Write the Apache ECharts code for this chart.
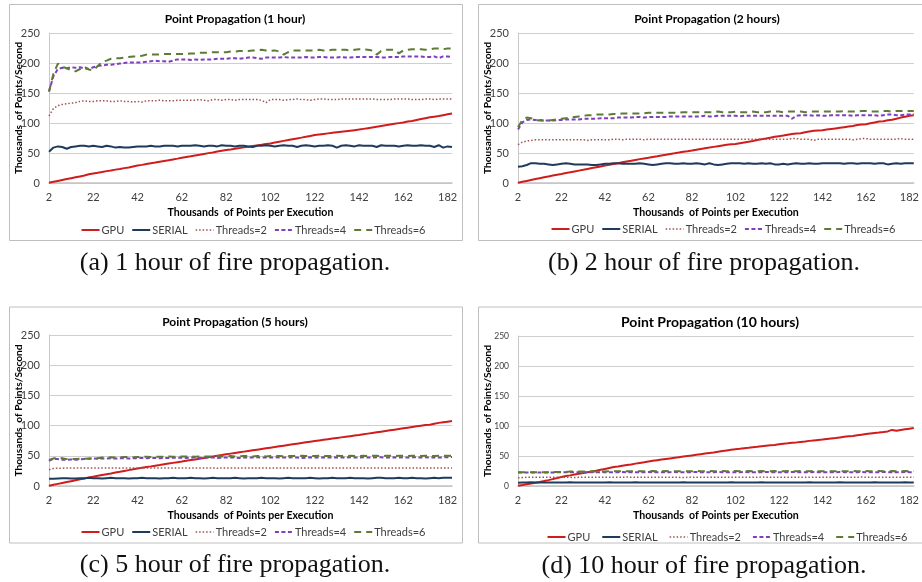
<!DOCTYPE html>
<html><head><meta charset="utf-8">
<script src="https://cdn.jsdelivr.net/npm/echarts@6/dist/echarts.min.js"></script>
<style>html,body{margin:0;padding:0;background:#fff}#c{width:922px;height:582px}</style>
</head><body><div id="c"></div>
<script>
// ---------- DATA ----------
const categories = [2,4,6,8,10,12,14,16,18,20,22,24,26,28,30,32,34,36,38,40,42,44,46,48,50,52,54,56,58,60,62,64,66,68,70,72,74,76,78,80,82,84,86,88,90,92,94,96,98,100,102,104,106,108,110,112,114,116,118,120,122,124,126,128,130,132,134,136,138,140,142,144,146,148,150,152,154,156,158,160,162,164,166,168,170,172,174,176,178,180,182,184];
const seriesNames = ['GPU','SERIAL','Threads=2','Threads=4','Threads=6'];
const yTicks = [0,50,100,150,200,250];

// (a) 1 hour
const gpuA = [0.5,2,3.5,5,6.5,8,9.5,11,12.5,14.5,
16,17.2,18.5,19.8,21,22.3,23.5,24.8,26,27.5,
29,30.2,31.5,32.8,34,35.5,36.8,38,39.3,40.6,
42,43.3,44.6,46,47.2,48.5,49.8,51,52.4,53.7,
55,56,57.2,58.3,59.5,60.5,61.6,62.7,63.8,65,
66,67.4,68.8,70.2,71.5,72.9,74.3,75.6,77,78.5,
80,80.9,81.8,82.7,83.6,84.5,85.4,86.3,87.2,88.1,
89,90.2,91.4,92.6,93.8,95,96.2,97.4,98.6,99.8,
101,102.5,103.5,105,106.5,108,109.5,110.5,111.5,113,
114.5,116];
const serialA = [52,59,61,60,57,60,61,62,62,61,
62,61,60,62,61,59,60,59,59,60,
61,61,61,62,61,61,62,62,62,61,
62,62,62,63,62,61,62,62,61,63,
62,62,61,62,62,61,60,62,62,63,
62,61,62,63,62,62,60,62,63,62,
61,62,62,63,62,59,62,63,62,61,
63,62,62,62,60,63,62,62,62,61,
62,63,62,62,63,62,62,60,63,59,
61,60];
const t2A = [112,124,129,131,132,133,134,136,137,136,
136,137,137,137,136,136,137,136,136,135,
136,135,137,137,137,138,137,137,137,138,
138,138,138,138,139,138,137,139,139,138,
139,139,138,139,139,139,139,139,138,134,
139,139,139,138,139,139,140,139,139,138,
139,140,140,139,139,139,140,140,140,140,
140,140,140,140,139,139,139,139,140,140,
140,140,139,139,139,140,140,139,140,140,
140,140];
const t4A = [153,178,190,192,191,193,192,193,191,190,
193,195,196,197,197,198,199,200,201,201,
201,201,202,203,204,203,203,202,204,206,
206,206,205,206,205,206,206,206,207,207,
207,208,208,207,208,209,209,208,207,209,
209,209,209,210,209,209,209,209,210,209,
209,210,210,209,209,209,210,209,209,210,
210,210,210,210,210,209,209,210,210,210,
211,211,211,211,211,210,210,211,208,211,
211,210];
const t6A = [152,182,199,194,191,188,186,190,194,189,
188,195,202,204,207,208,208,209,210,211,
211,212,214,214,214,214,215,215,215,215,
215,215,216,216,217,217,217,218,218,218,
218,219,219,220,220,220,221,221,222,221,
220,221,219,214,218,221,221,221,221,221,
221,222,221,221,222,222,222,222,221,222,
223,223,222,221,214,220,222,222,222,216,
221,222,223,223,223,222,223,224,224,223,
224,224];

// (b) 2 hours
const gpuB = [0.5,2,3.5,5,6.5,8,9.5,11,12.5,13.8,
15,16.5,17.8,19.2,20.6,22,23.5,25,26.3,27.6,
29,30.2,31.5,33,34.5,36,37,38.4,39.8,41,
42,43.3,44.5,45.8,47,48.3,49.5,50.8,52.2,53,
54,55.5,56.8,58,59,60.2,61.4,62.6,63.8,64.5,
65,66.2,67.4,68.6,70,71.5,72.8,74,75.5,77,
78,79,80.4,81.6,82.5,83,84.5,86,87,87.5,
88,89,90,91,92,93,94,95,96.5,97.5,
98,99.5,101,102.5,103,104.5,105.5,107,109,110.5,
112,113];
const serialB = [27,28,30,33,33,32,32,31,30,31,
32,33,32,31,31,31,31,30,30,31,
32,32,33,33,32,32,32,32,33,32,
31,30,31,32,33,33,32,32,33,32,
32,33,32,31,33,31,30,31,32,33,
33,33,32,33,32,32,33,32,33,31,
31,32,31,32,33,32,32,33,32,32,
33,33,33,33,33,32,33,33,32,33,
33,33,32,33,33,31,32,33,32,33,
33,33];
const t2B = [64,68,70,71,72,72,72,72,72,72,
72,72,72,72,72,72,71,72,72,72,
72,72,73,73,72,73,73,73,73,72,
73,73,73,73,73,73,73,73,73,73,
73,73,73,73,73,73,73,73,73,73,
73,73,73,73,73,73,73,73,73,73,
73,73,73,74,74,73,73,73,71,73,
73,73,73,73,73,73,73,72,73,74,
74,73,73,73,73,73,73,73,74,73,
73,73];
const t4B = [89,101,105,106,105,105,104,104,104,105,
105,106,106,106,106,107,107,107,107,108,
108,108,108,109,109,109,109,110,110,109,
110,110,110,110,110,111,111,111,111,111,
111,111,111,112,111,111,112,112,112,112,
112,111,112,112,112,112,112,112,112,112,
112,112,112,107,112,113,113,113,112,113,
112,112,113,113,113,113,113,112,113,113,
113,113,113,112,113,114,114,113,113,114,
114,115];
const t6B = [93,105,109,108,105,104,104,104,105,106,
107,108,109,110,111,112,113,113,114,114,
114,114,115,115,116,116,116,116,116,116,
117,117,117,117,117,117,117,117,118,118,
118,118,118,118,118,118,119,118,118,118,
119,118,118,118,119,118,118,118,119,119,
119,118,119,119,119,119,118,119,119,119,
119,119,119,119,119,120,119,119,119,120,
120,119,119,119,120,120,119,120,120,120,
120,120];

// (c) 5 hours
const gpuC = [0.5,2,3.5,5,6.5,8,9.5,11,12.5,14,
15.5,16.8,18.2,19.5,20.8,22.2,23.5,25,26.3,27.6,
29,30.2,31.4,32.5,33.7,34.8,36,37.2,38.3,39.4,
40.5,41.7,42.9,44,45.2,46.4,47.6,48.8,50,51.2,
52.5,53.6,54.7,55.8,56.9,58,59.1,60.2,61.3,62.4,
63.5,64.6,65.7,66.8,67.9,69,70.1,71.2,72.3,73.4,
74.5,75.5,76.5,77.5,78.5,79.5,80.5,81.5,82.5,83.5,
84.5,85.6,86.7,87.8,88.9,90,91.1,92.2,93.3,94.4,
95.5,96.6,97.7,98.8,99.9,101,101.5,103,104.5,105.5,
106.5,107.5];
const serialC = [12,12,12.5,13,13,12.5,12.5,13,13,13.5,
13,13,12.5,13,13.5,13,13,13,12.5,13,
13,13.5,13,13,13,12.5,13,13,13.5,13,
13,13,13.5,13,13,12.5,13,13.5,13,13,
13,13,13.5,13,12.5,13,13,13,13.5,13,
13,13,12.5,13,13.5,13,13,13,13,13.5,
13,12.5,13,13,13.5,13,13,13,13.5,13,
13,13,12.5,13,13.5,13.5,13,13,13,13.5,
13,13,13.5,13,13,12.5,13,13.5,13,13.5,
13.5,13.5];
const t2C = [27,29,29.5,29.5,30,30,29.5,30,30,30,
30,29.5,30,30,30,30,29.5,30,30,30,
29.5,30,30,30,30,29.5,30,30,30,30,
30,30,29.5,30,30,30,30,30,29.5,30,
30,30,30,29.5,30,30,30,30,30,30,
29.5,30,30,30,30,30,29.5,30,30,30,
30,30,30,29.5,30,30,30,30,30,30,
29.5,30,30,30,30,30,30,29.5,30,30,
30,30,30,30,29.5,30,30,30,30,30,
30,30];
const t4C = [41.5,45,44.5,43.5,43.5,44,43.5,44,44.5,45,
45.5,45,45.5,45.5,46,45.5,46,46,45.5,46,
46,46.5,46,46.5,46.5,46,46.5,46.5,47,46.5,
47,46.5,47,47,46.5,47,47,47,46.5,47,
47,47,47,46.5,47,47,47,47.5,47,47,
47,47.5,47,47,47,47.5,47,46.5,47,47.5,
47,47,47.5,47,47,47.5,47,47,47.5,47,
47,47.5,47,47,47.5,47.5,47,47,47.5,47,
47.5,47,47.5,47.5,47,47.5,47,47.5,47,47.5,
47.5,48];
const t6C = [43,45.5,47,46,44.5,44.5,44.5,45,45,45.5,
46,46,47,47,47.5,47,47.5,48,48,47.5,
48,48,48.5,48,48.5,48.5,48.5,49,48.5,48.5,
49,49,49,48.5,49,49,49,49,49.5,49,
49,49.5,49,49,49.5,49.5,49,49.5,49.5,49,
49.5,49.5,49.5,49,49.5,49.5,49.5,50,49.5,49.5,
49.5,50,49.5,49.5,49.5,50,49.5,49.5,50,49.5,
49.5,50,49.5,50,50,49.5,50,50,49.5,50,
50,49.5,50,50,49.5,50,50,49.5,50,50,
50,50];

// (d) 10 hours
const gpuD = [0.5,1.5,3,4.2,5.5,6.8,8.2,9.8,11.5,13.2,
15,16.5,17.7,19,20.3,21.5,22.8,24,25.5,27,
28.5,30,31.5,32.5,33.8,35,36,37.3,38.5,39.7,
41,42,43,44,45,46,47,48,49,50,
51,52,53,54,55,56,57.2,58.3,59.3,60.3,
61.3,62,63,63.7,64.5,65.3,66.2,67,67.8,68.5,
69.5,70.5,71.2,72,72.7,73.5,74.3,75.2,76,76.8,
77.6,78.5,79.3,80,81,82,82.8,83.5,84.5,85.5,
86.5,87.5,88.5,89.2,90,91,93.5,92,93.5,94.5,
95.5,96.5];
const serialD = [5.5,6,6,6.2,6,6,6,6,5.8,6,
6,6,6.2,6,6,6,5.8,6,6,6,
6,6.2,6,6,6,6,6,6.2,6,6,
6,6,5.8,6,6,6,6,6,6.2,6,
6,6,6,6,5.8,6,6,6,6,6.2,
6,6,6,6,6,6,6.2,6,6,6,
6,5.8,6,6,6,6,6,6.2,6,6,
6,6,6,6,6.2,6,6,6,5.8,6,
6,6,6.2,6,6,6,6,6,6,6.2,
6,6];
const t2D = [13.5,14,14.5,14.5,14.5,14.5,14.5,14.5,14.5,14.5,
14.5,14.5,14.5,14,14.5,14.5,14.5,14.5,14.5,14.5,
14.5,14.5,14.5,14.5,14.5,15,14.5,14.5,14.5,14.5,
14.5,14.5,14.5,14.5,14.5,14.5,14.5,14.5,14,14.5,
14.5,14.5,14.5,14.5,14.5,14.5,14.5,14.5,14.5,14.5,
14.5,14.5,14.5,14.5,14.5,14.5,15,14.5,14.5,14.5,
14.5,14.5,14.5,14.5,14.5,14.5,14.5,14.5,14.5,14.5,
14.5,14.5,14.5,14.5,14.5,14.5,14.5,14.5,14.5,15,
14.5,14.5,14.5,14.5,14.5,14.5,14.5,14.5,14.5,14.5,
14.5,14.5];
const t4D = [22.5,22.5,22.5,22.5,22.5,22.5,22.5,22.5,22.5,23,
23,23,23,23,23,23,23,23,23,23,
23,23,23,23,23.5,23,23,23,23,23,
23.5,23,23,23,23,23,23.5,23,23,23,
23,23.5,23,23,23,23,23.5,23,23,23,
23,23,23.5,23,23,23,23,23.5,23,23,
23,23,23,23.5,23,23,23,23,23.5,23,
23,23,23,23,23.5,23,23,23,23,23.5,
23,23,23,23,23.5,23,23,23,23,23.5,
23,23];
const t6D = [23,23,23,23,23,23,23,23,23,23.5,
23.5,23.5,24,24,24,24,24,24.5,24,24,
24,24.5,24.5,24.5,24.5,24.5,24.5,25,24.5,24.5,
24.5,25,24.5,24.5,25,24.5,24.5,24.5,25,24.5,
24.5,25,24.5,24.5,25,24.5,24.5,25,24.5,24.5,
25,24.5,24.5,25,24.5,24.5,25,24.5,24.5,25,
24.5,24.5,25,24.5,24.5,25,24.5,24.5,25,24.5,
24.5,25,24.5,24.5,25,24.5,24.5,25,24.5,24.5,
25,24.5,24.5,25,24.5,24.5,25,24.5,24.5,25,
24.5,25];

const titles = ['Point Propagation (1 hour)','Point Propagation (2 hours)','Point Propagation (5 hours)','Point Propagation (10 hours)'];
const captions = ['(a) 1 hour of fire propagation.','(b) 2 hour of fire propagation.','(c) 5 hour of fire propagation.','(d) 10 hour of fire propagation.'];
const xName = 'Thousands  of Points per Execution';
const yName = 'Thousands  of Points/Second';

// ---------- LAYOUT / STYLE ----------
const FONT = 'Lato, "Open Sans", sans-serif';
const lineStyles = [
  {color:'#D01C1C', width:2, type:'solid'},
  {color:'#1F3B5C', width:2, type:'solid'},
  {color:'#A05050', width:1.5, type:[1.5,2]},
  {color:'#7F3FBF', width:2, type:[4,2.5]},
  {color:'#5E7B35', width:2, type:[7,5]}
];
const panels = [
  {data:[gpuA,serialA,t2A,t4A,t6A], grid:[49,33,403,150], box:[9.5,4.5,453,236], tx:235, ty:19, tf:12, xlab:11, ylab:11, lg:[253.5,230,8], cx:235, cy:263},
  {data:[gpuB,serialB,t2B,t4B,t6B], grid:[518,33,403,150], box:[478.5,4.5,460,236], tx:707, ty:19, tf:12, xlab:11, ylab:11, lg:[723.5,229,8], cx:704, cy:263},
  {data:[gpuC,serialC,t2C,t4C,t6C], grid:[49,335,403,151], box:[9.5,307,453,236], tx:235, ty:322, tf:12, xlab:11, ylab:11, lg:[253.5,532,8], cx:235, cy:565},
  {data:[gpuD,serialD,t2D,t4D,t6D], grid:[518,336,403,150], box:[478.5,307,460,236], tx:710, ty:322, tf:14, xlab:11, ylab:8.5, lg:[727.5,537,12], cx:704, cy:566}
];

const ctx = document.createElement('canvas').getContext('2d');
const option = {animation:false, textStyle:{fontFamily:FONT}, grid:[], xAxis:[], yAxis:[], series:[], graphic:[]};
panels.forEach((p,k)=>{
  option.graphic.push({type:'rect', silent:true, z:-10, shape:{x:p.box[0], y:p.box[1], width:p.box[2], height:p.box[3]}, style:{fill:'#fff', stroke:'#bfbfbf', lineWidth:1}});
  option.graphic.push({type:'text', silent:true, style:{x:p.tx, y:p.ty, text:titles[k], align:'center', verticalAlign:'middle', font:'bold '+p.tf+'px '+FONT, fill:'#000'}});
  option.graphic.push({type:'text', silent:true, style:{x:p.cx, y:p.cy, text:captions[k], align:'center', verticalAlign:'middle', font:'26px "Liberation Serif", serif', fill:'#111'}});
  option.grid.push({left:p.grid[0], top:p.grid[1], width:p.grid[2], height:p.grid[3]});
  option.xAxis.push({type:'category', gridIndex:k, data:categories.map(String), boundaryGap:false,
    axisTick:{show:false}, axisLine:{lineStyle:{color:'#c4c4c4', width:1.5}},
    axisLabel:{interval:9, color:'#404040', fontSize:p.xlab, margin:9, fontFamily:FONT},
    splitLine:{show:false}, name:xName, nameLocation:'middle', nameGap:24, nameMoveOverlap:false,
    nameTextStyle:{fontWeight:'bold', fontSize:10.6, color:'#000', fontFamily:FONT}});
  option.yAxis.push({type:'value', gridIndex:k, min:yTicks[0], max:yTicks[yTicks.length-1], interval:50,
    axisLine:{show:true, lineStyle:{color:'#c8c8c8'}}, axisTick:{show:false},
    axisLabel:{color:'#404040', fontSize:p.ylab, margin:9, fontFamily:FONT},
    splitLine:{lineStyle:{color:'#cfcfcf'}}, name:yName, nameLocation:'middle', nameGap:25, nameMoveOverlap:false,
    nameTextStyle:{fontWeight:'bold', fontSize:10.2, color:'#000', fontFamily:FONT}});
  p.data.forEach((d,j)=>{
    option.series.push({type:'line', name:seriesNames[j], xAxisIndex:k, yAxisIndex:k, data:d,
      symbol:'none', showSymbol:false, silent:true, emphasis:{disabled:true},
      lineStyle:lineStyles[j], itemStyle:{color:lineStyles[j].color}});
  });
  // legend (drawn as line + text items)
  const fs = 11, iconW = 18, tg = 2, gap = p.lg[2];
  ctx.font = fs+'px '+FONT;
  const widths = seriesNames.map(n=>ctx.measureText(n).width);
  const total = widths.reduce((s,w)=>s+iconW+tg+w,0) + gap*(seriesNames.length-1);
  let x = p.lg[0] - total/2;
  seriesNames.forEach((n,j)=>{
    const ls = lineStyles[j];
    option.graphic.push({type:'line', silent:true, shape:{x1:x, y1:p.lg[1], x2:x+iconW, y2:p.lg[1]},
      style:{stroke:ls.color, lineWidth:ls.width, lineDash:Array.isArray(ls.type)?ls.type:null}});
    option.graphic.push({type:'text', silent:true, style:{x:x+iconW+tg, y:p.lg[1], text:n, align:'left', verticalAlign:'middle', font:fs+'px '+FONT, fill:'#404040'}});
    x += iconW+tg+widths[j]+gap;
  });
});
const chart = echarts.init(document.getElementById('c'));
chart.setOption(option);
</script>
</body></html>
